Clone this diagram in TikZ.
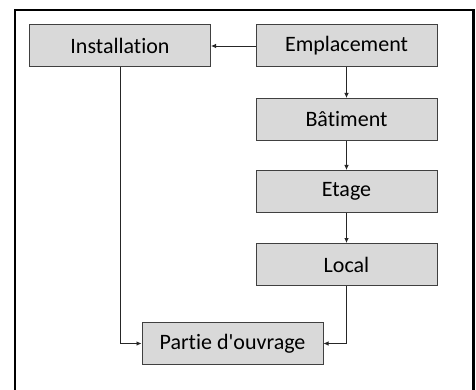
\documentclass[tikz,border=0pt]{standalone}
\usepackage{fontspec}
\setmainfont{Carlito}[Ligatures={NoCommon}]
\usetikzlibrary{arrows.meta}
\definecolor{boxfill}{RGB}{217,217,217}
\definecolor{boxline}{RGB}{64,64,64}
\begin{document}
\begin{tikzpicture}[x=1pt,y=-1pt,
  box/.style={draw=boxline,line width=1pt,fill=boxfill,minimum width=181pt,minimum height=42pt,inner sep=0pt,font=\fontsize{22}{26}\selectfont},
  conn/.style={draw=black!85,line width=0.8pt,-{Latex[length=5pt,width=4.5pt]}}]
\useasboundingbox (0,0) rectangle (476,390);
\fill[white] (0,0) rectangle (476,390);
\begin{scope}
\clip (0,0) rectangle (476,390);
\draw[line width=2.5pt] (15,10) rectangle (473.5,410);
\end{scope}
\node[box] (inst) at (120,46) {Installation};
\node[box] (empl) at (346.5,46) {Emplacement};
\node[box] (bat) at (346.5,119.5) {Bâtiment};
\node[box] (etage) at (346.5,191.5) {Etage};
\node[box] (local) at (346.5,264.5) {Local};
\node[box] (partie) at (232.5,343.5) {Partie d\textquotesingle ouvrage};
\draw[conn] (empl.west) -- (inst.east);
\draw[conn] (empl) -- (bat);
\draw[conn] (bat) -- (etage);
\draw[conn] (etage) -- (local);
\draw[conn] (inst.south) |- (partie.west);
\draw[conn] (local.south) |- (partie.east);
\end{tikzpicture}
\end{document}
